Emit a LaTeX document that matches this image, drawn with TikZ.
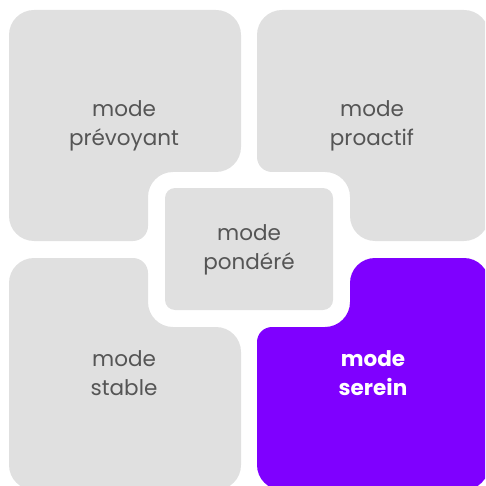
\documentclass[tikz,border=0pt]{standalone}
\usepackage{fontspec}
\setmainfont{Poppins}
\usepackage{tikz}
\definecolor{tilegray}{RGB}{224, 224, 224}
\definecolor{textgray}{RGB}{85, 85, 85}
\definecolor{sereincolor}{RGB}{127, 0, 255}

\begin{document}
\begin{tikzpicture}[x=1pt, y=-1pt,
    label/.style={align=center, text=textgray, font=\fontsize{21.5}{29}\selectfont},
    active/.style={align=center, text=white, font=\fontsize{21.5}{29}\selectfont\bfseries}]
        \useasboundingbox (0,0) rectangle (485,486);
        \clip (0,0) rectangle (485,486);

        % Tiles (top row)
        \fill[tilegray] [rounded corners=25pt] (9,10) -- (241,10) -- (241,172) -- (148,172)
            [rounded corners=15pt] -- (148,241) [rounded corners=25pt] -- (9,241) -- cycle;
        \fill[tilegray] [rounded corners=25pt] (257,10) -- (489,10) -- (489,241) -- (350,241)
            [rounded corners=25pt] -- (350,172) [rounded corners=15pt] -- (257,172) [rounded corners=25pt] -- cycle;

        % Tiles (bottom row)
        \fill[tilegray] [rounded corners=25pt] (9,258) [rounded corners=15pt] -- (148,258)
            [rounded corners=25pt] -- (148,327) -- (241,327) -- (241,490) -- (9,490) -- cycle;
        \fill[sereincolor] [rounded corners=18pt] (350,258) [rounded corners=25pt] -- (489,258) -- (489,490)
            -- (257,490) [rounded corners=15pt] -- (257,327) [rounded corners=25pt] -- (350,327) -- cycle;

        % Centre tile
        \fill[tilegray, rounded corners=10pt] (165,188) rectangle (333,310);

        % Labels
        \node[label] (PV) at (124,126) {mode\\prévoyant};
        \node[label] (PA) at (372,126) {mode\\proactif};
        \node[label] (PO) at (249,250) {mode\\pondéré};
        \node[label] (ST) at (124,373) {mode\\stable};
        \node[active] (SE) at (373,373) {mode\\serein};

    \end{tikzpicture}
\end{document}
